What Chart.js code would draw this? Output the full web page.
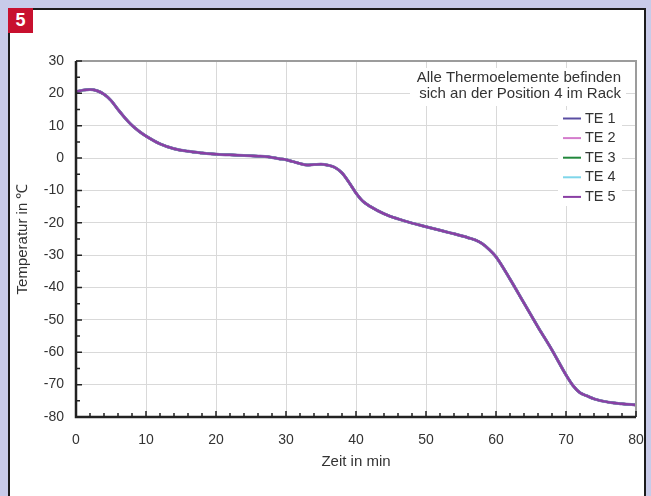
<!DOCTYPE html>
<html>
<head>
<meta charset="utf-8">
<script src="https://cdn.jsdelivr.net/npm/chart.js@4.4.0/dist/chart.umd.min.js"></script>
<style>
  html, body { margin:0; padding:0; background:#c8cbe9; width:651px; height:496px; overflow:hidden; }
  #frame { position:absolute; left:8px; top:8px; width:634px; height:500px; background:#fff;
           border-left:2px solid #1c1c1c; border-top:2px solid #1c1c1c; border-right:2px solid #1c1c1c; }
  #badge { position:absolute; left:8px; top:8px; width:25px; height:25px; background:#c8102e; color:#fff;
           font:bold 18px "Liberation Sans", Arial, sans-serif; text-align:center; line-height:25px; }
  canvas { position:absolute; left:0; top:0; }
</style>
</head>
<body>
<div id="frame"></div>
<div id="badge">5</div>
<canvas id="myChart" width="651" height="496"></canvas>
<script>
// time in minutes and temperature
// (all five thermocouples lie on top of each other within the line width)
const minutes = [0,1,2,3,4,5,6,7,8,9,10,12,14,16,18,20,22,24,26,27,28,29,30,31,32,33,34,35,36,37,38,39,40,41,42,44,46,48,50,52,54,56,57,58,59,60,62,64,66,68,70,71,72,73,74,76,78,80];
const te1 = [20.5,21.0,21.2,20.8,19.7,17.8,15.0,12.4,10.1,8.3,6.8,4.4,2.9,2.1,1.6,1.2,1.0,0.8,0.6,0.5,0.2,-0.2,-0.5,-1.1,-1.7,-2.1,-2.0,-1.9,-2.2,-2.9,-4.6,-7.5,-10.8,-13.4,-14.9,-17.2,-18.8,-20.1,-21.2,-22.3,-23.4,-24.6,-25.3,-26.4,-28.2,-30.5,-37.4,-44.8,-52.2,-59.3,-67.0,-70.3,-72.5,-73.5,-74.4,-75.4,-75.9,-76.3];
const te2 = te1.slice();
const te3 = te1.slice();
const te4 = te1.slice();
const te5 = te1.slice();
const seriesValues = [te1, te2, te3, te4, te5];
const seriesNames = ['TE 1', 'TE 2', 'TE 3', 'TE 4', 'TE 5'];
const seriesColors = ['#5a4ea2', '#d47ccc', '#22883c', '#7fd6ea', '#8a3fa4'];
const noteLines = ['Alle Thermoelemente befinden', 'sich an der Position 4 im Rack'];

Chart.defaults.font.family = '"Liberation Sans", Arial, sans-serif';
Chart.defaults.font.size = 14;
Chart.defaults.color = '#333';

// inward ticks, frame, note and legend
const axisDeco = {
  id: 'axisDeco',
  beforeDatasetsDraw(chart) {
    const {ctx, chartArea: a} = chart;
    ctx.save();
    ctx.fillStyle = '#fff';
    ctx.fillRect(a.right - 226, a.top + 7, 216, 38);
    ctx.fillRect(a.right - 78, a.top + 49, 64, 96);
    ctx.restore();
  },
  afterDatasetsDraw(chart) {
    const {ctx, chartArea: a, scales: {x, y}} = chart;
    ctx.save();
    // note
    ctx.fillStyle = '#333';
    ctx.font = '15px "Liberation Sans", Arial, sans-serif';
    ctx.textAlign = 'right';
    ctx.textBaseline = 'middle';
    noteLines.forEach((t, i) => ctx.fillText(t, a.right - 15, a.top + 16.5 + i * 16.8));
    // legend
    ctx.textAlign = 'left';
    ctx.font = '14.5px "Liberation Sans", Arial, sans-serif';
    chart.data.datasets.forEach((ds, i) => {
      const ly = a.top + 57.5 + i * 19.6;
      ctx.strokeStyle = ds.borderColor;
      ctx.lineWidth = 2;
      ctx.beginPath();
      ctx.moveTo(a.right - 73, ly);
      ctx.lineTo(a.right - 55, ly);
      ctx.stroke();
      ctx.fillText(ds.label, a.right - 51, ly);
    });
    // top / right frame
    ctx.strokeStyle = '#9c9c9c';
    ctx.lineWidth = 2;
    ctx.beginPath();
    ctx.moveTo(a.left, a.top);
    ctx.lineTo(a.right, a.top);
    ctx.lineTo(a.right, a.bottom);
    ctx.stroke();
    // left / bottom axes
    ctx.strokeStyle = '#222';
    ctx.lineWidth = 2.5;
    ctx.beginPath();
    ctx.moveTo(a.left, a.top);
    ctx.lineTo(a.left, a.bottom);
    ctx.lineTo(a.right, a.bottom);
    ctx.stroke();
    // ticks
    ctx.lineWidth = 1.5;
    ctx.beginPath();
    for (let v = x.min; v <= x.max; v += 2) {
      const px = x.getPixelForValue(v);
      const len = v % 10 === 0 ? 6 : 4;
      ctx.moveTo(px, a.bottom);
      ctx.lineTo(px, a.bottom - len);
    }
    for (let v = y.min; v <= y.max; v += 5) {
      const py = y.getPixelForValue(v);
      const len = v % 10 === 0 ? 6 : 4;
      ctx.moveTo(a.left, py);
      ctx.lineTo(a.left + len, py);
    }
    ctx.stroke();
    ctx.restore();
  }
};

const datasets = seriesValues.map((vals, i) => ({
  label: seriesNames[i],
  data: minutes.map((t, j) => ({x: t, y: vals[j]})),
  borderColor: seriesColors[i],
  borderWidth: i === 0 ? 3 : 2.5,
  pointRadius: 0,
  showLine: true,
  fill: false,
  cubicInterpolationMode: 'monotone',
  order: seriesValues.length - 1 - i
}));

new Chart(document.getElementById('myChart').getContext('2d'), {
  type: 'scatter',
  data: { datasets: datasets },
  options: {
    responsive: false,
    animation: false,
    layout: { padding: { left: 0, top: 61, right: 15, bottom: 0 } },
    plugins: { legend: { display: false }, tooltip: { enabled: false } },
    scales: {
      x: {
        type: 'linear', min: 0, max: 80,
        afterFit: s => { s.height = 79; s.paddingLeft = 0; s.paddingRight = 0; },
        ticks: { stepSize: 10, padding: 15, maxRotation: 0, color: '#333' },
        grid: { color: '#d9d9d9', drawTicks: false },
        border: { display: false },
        title: { display: true, text: 'Zeit in min', color: '#333', font: { size: 15 }, padding: { top: 4, bottom: 25 } }
      },
      y: {
        type: 'linear', min: -80, max: 30,
        afterFit: s => { s.width = 76; s.paddingTop = 0; s.paddingBottom = 0; },
        ticks: { stepSize: 10, padding: 12, color: '#333' },
        grid: { color: '#d9d9d9', drawTicks: false },
        border: { display: false },
        title: { display: true, text: 'Temperatur in ℃', color: '#333', font: { size: 15 }, padding: { top: 14, bottom: 0 } }
      }
    }
  },
  plugins: [axisDeco]
});
</script>
</body>
</html>
